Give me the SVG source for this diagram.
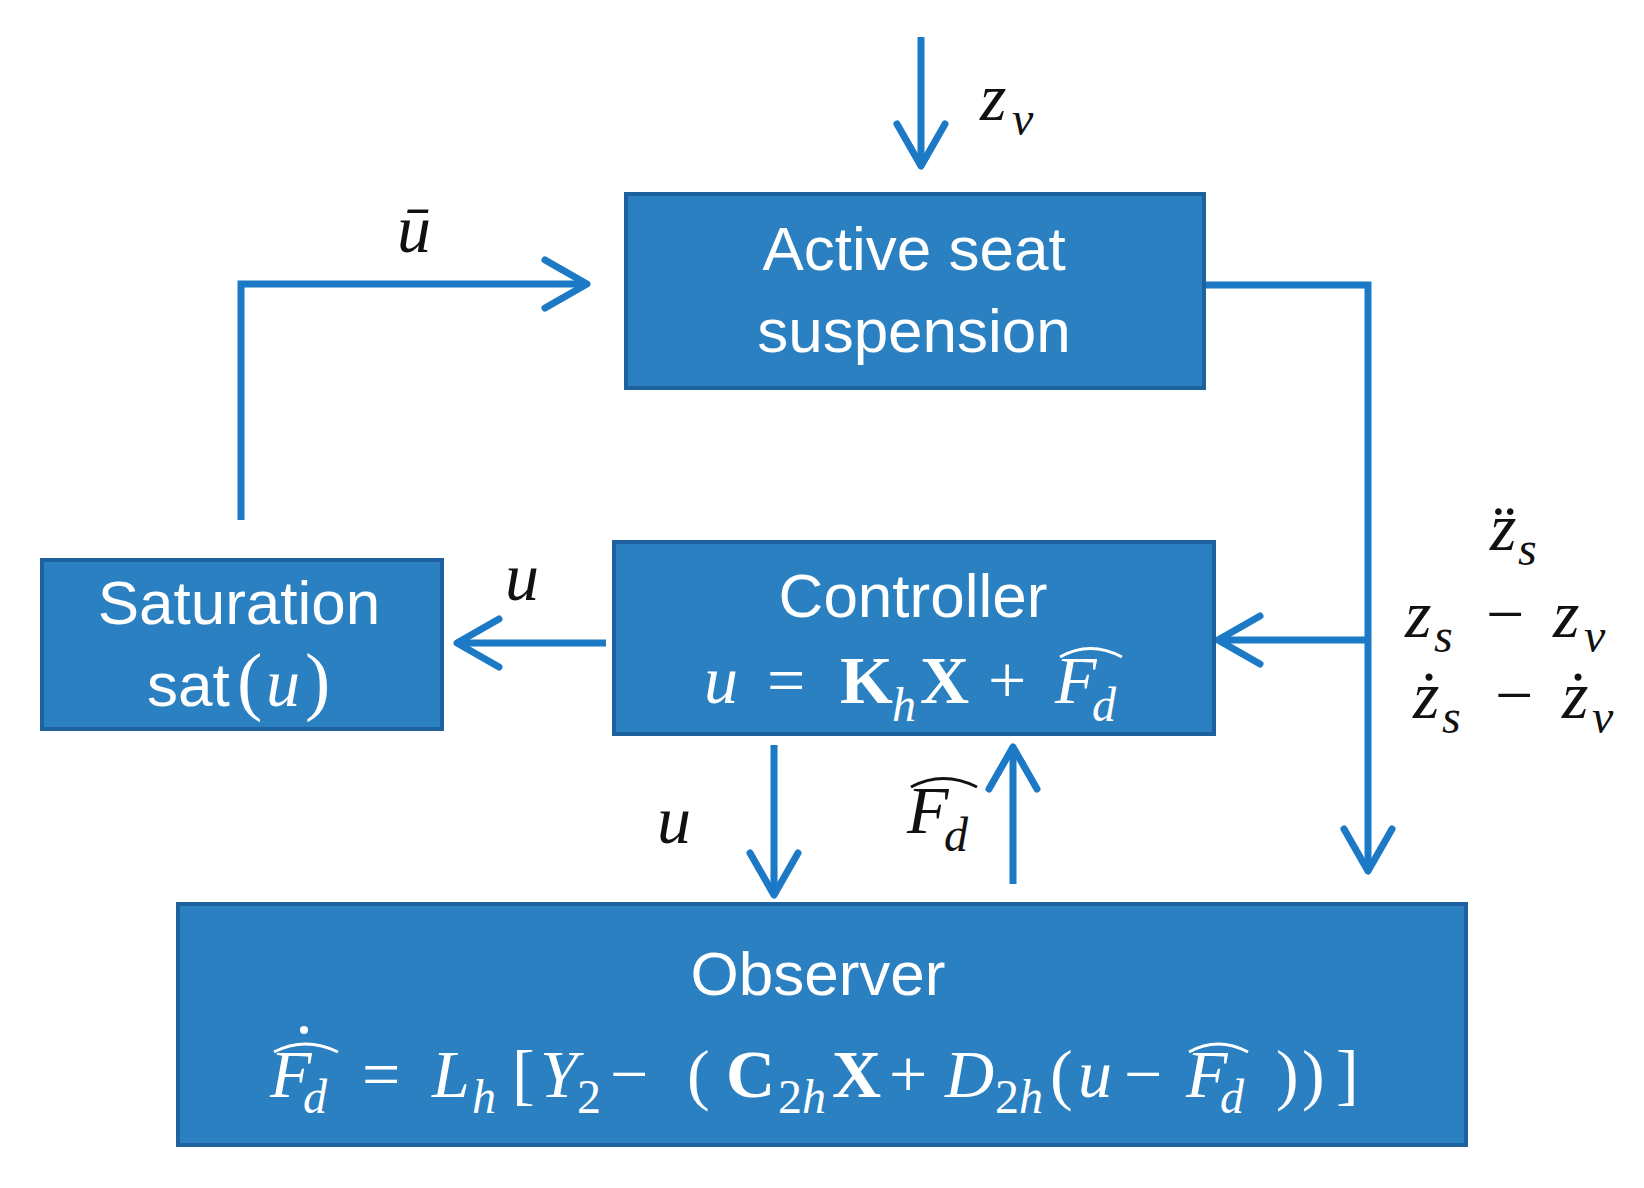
<svg xmlns="http://www.w3.org/2000/svg" width="1644" height="1188" viewBox="0 0 1644 1188">
<style>
.box{fill:#2a80c1;stroke:#1d629f;stroke-width:4}
.lbl{font-family:"Liberation Sans",Arial,sans-serif;font-size:62px;fill:#ffffff;text-anchor:middle}
.m{font-family:"Liberation Serif","Times New Roman",serif;font-style:italic;font-size:68px}
.mw{fill:#ffffff}
.mk{fill:#111111}
.b{font-style:normal;font-weight:bold}
.n{font-style:normal}
.sub{font-size:48px}
.con{fill:none;stroke:#1b79c6;stroke-width:7;marker-end:url(#ah)}
.hatw{fill:none;stroke:#ffffff;stroke-width:3}
.hatk{fill:none;stroke:#111111;stroke-width:3}
</style>
<defs>
<marker id="ah" markerUnits="userSpaceOnUse" markerWidth="60" markerHeight="60" viewBox="-50 -30 60 60" refX="-3" refY="0" orient="auto" overflow="visible">
<path d="M-42,-24 L0,0 L-42,24" fill="none" stroke="#1b79c6" stroke-width="7" stroke-linecap="round" stroke-linejoin="round"/>
</marker>
</defs>
<rect width="1644" height="1188" fill="#ffffff"/>

<g id="connectors">
<path class="con" d="M921,37 V163"/>
<path class="con" d="M241,520 V284 H584"/>
<path class="con" d="M1204,285 H1368 V868"/>
<path class="con" d="M1368,640 H1221"/>
<path class="con" d="M606,643 H460"/>
<path class="con" d="M774,745 V892"/>
<path class="con" d="M1013,884 V750"/>
</g>

<g id="active-seat">
<rect class="box" x="626" y="194" width="578" height="194"/>
<text class="lbl" x="914" y="270">Active seat</text>
<text class="lbl" x="914" y="352">suspension</text>
</g>

<g id="controller">
<rect class="box" x="614" y="542" width="600" height="192"/>
<text class="lbl" x="913" y="617">Controller</text>
<text class="m mw" y="703"><tspan x="704">u</tspan><tspan class="n" x="767">=</tspan><tspan class="b" x="840">K</tspan><tspan class="sub" x="892" dy="18">h</tspan><tspan class="b" x="920" dy="-18">X</tspan><tspan class="n" x="988">+</tspan><tspan x="1055">F</tspan><tspan class="sub" x="1092" dy="18">d</tspan></text>
<path class="hatw" d="M1060,657 Q1090,640 1122,657"/>
</g>

<g id="saturation">
<rect class="box" x="42" y="560" width="400" height="169"/>
<text class="lbl" x="239" y="624">Saturation</text>
<text y="706" fill="#ffffff"><tspan x="147" font-family="Liberation Sans, Arial, sans-serif" font-size="62">sat</tspan><tspan x="237" font-family="Liberation Serif, serif" font-size="76">(</tspan><tspan x="266" font-family="Liberation Serif, serif" font-style="italic" font-size="68">u</tspan><tspan x="305" font-family="Liberation Serif, serif" font-size="76">)</tspan></text>
</g>

<g id="observer">
<rect class="box" x="178" y="904" width="1288" height="241"/>
<text class="lbl" x="818" y="995">Observer</text>
<text class="m mw" y="1097"><tspan x="270">F</tspan><tspan class="sub" x="303" dy="16">d</tspan><tspan class="n" x="362" dy="-16">=</tspan><tspan x="432">L</tspan><tspan class="sub" x="472" dy="16">h</tspan><tspan class="n" x="512" dy="-16">[</tspan><tspan x="540">Y</tspan><tspan class="sub n" x="577" dy="16">2</tspan><tspan class="n" x="610" dy="-16">−</tspan><tspan class="n" x="687">(</tspan><tspan class="b" x="726">C</tspan><tspan class="sub n" x="778" dy="16">2</tspan><tspan class="sub" x="802">h</tspan><tspan class="b" x="832" dy="-16">X</tspan><tspan class="n" x="889">+</tspan><tspan x="945">D</tspan><tspan class="sub n" x="995" dy="16">2</tspan><tspan class="sub" x="1019">h</tspan><tspan class="n" x="1050" dy="-16">(</tspan><tspan x="1078">u</tspan><tspan class="n" x="1124">−</tspan><tspan x="1186">F</tspan><tspan class="sub" x="1220" dy="16">d</tspan><tspan class="n" x="1276" dy="-16">)</tspan><tspan class="n" x="1302">)</tspan><tspan class="n" x="1336">]</tspan></text>
<path class="hatw" d="M274,1052 Q305,1036 338,1052"/>
<circle cx="304" cy="1030" r="4" fill="#ffffff"/>
<path class="hatw" d="M1189,1052 Q1218,1036 1248,1052"/>
</g>

<g id="labels">
<text class="m mk" y="120"><tspan x="980">z</tspan><tspan class="sub" x="1012" dy="15">v</tspan></text>
<text class="m mk" x="397" y="252">ū</text>
<text class="m mk" x="505" y="600">u</text>
<text class="m mk" x="657" y="843">u</text>
<text class="m mk" y="833"><tspan x="907">F</tspan><tspan class="sub" x="944" dy="18">d</tspan></text>
<path class="hatk" d="M911,787 Q943,770 977,787"/>
<text class="m mk" y="550"><tspan x="1490">z&#x308;</tspan><tspan class="sub" x="1518" dy="15">s</tspan></text>
<text class="m mk" y="637"><tspan x="1405">z</tspan><tspan class="sub" x="1434" dy="15">s</tspan><tspan class="n" x="1486" dy="-15">−</tspan><tspan x="1553">z</tspan><tspan class="sub" x="1584" dy="15">v</tspan></text>
<text class="m mk" y="718"><tspan x="1413">ż</tspan><tspan class="sub" x="1442" dy="15">s</tspan><tspan class="n" x="1495" dy="-15">−</tspan><tspan x="1562">ż</tspan><tspan class="sub" x="1592" dy="15">v</tspan></text>
</g>
</svg>
